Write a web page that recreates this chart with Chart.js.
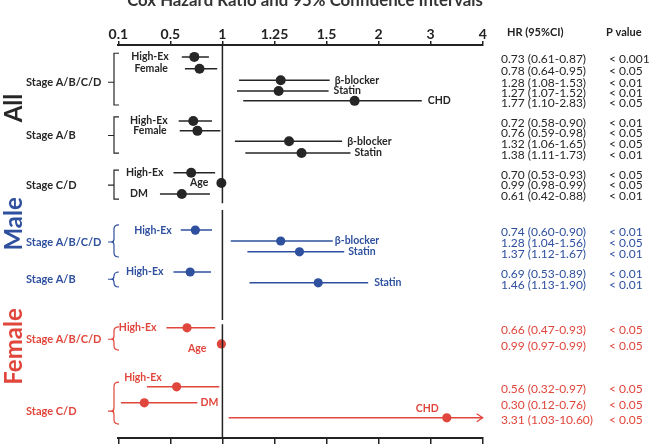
<!DOCTYPE html>
<html><head><meta charset="utf-8">
<script src="https://cdn.jsdelivr.net/npm/chart.js@4.4.0/dist/chart.umd.min.js"></script>
<style>html,body{margin:0;padding:0;background:#fff;} #wrap{position:relative;width:649px;height:444px;}</style>
</head><body><div id="wrap"><canvas id="c"></canvas></div>
<script>
// ---------- data ----------
const titleText = 'Cox Hazard Ratio and 95% Confidence Intervals';
const tickLabels = ['0.1','0.5','1','1.25','1.5','2','3','4'];
const tickValues = [0.1, 0.5, 1, 1.25, 1.5, 2, 3, 4];
const groupNames = ['All', 'Male', 'Female'];
const stageNames = ['Stage A/B/C/D','Stage A/B','Stage C/D','Stage A/B/C/D','Stage A/B','Stage A/B/C/D','Stage C/D'];
const stageGroup = [0, 0, 0, 1, 1, 2, 2];
const factors = ['High-Ex','Female','β-blocker','Statin','CHD',
                 'High-Ex','Female','β-blocker','Statin',
                 'High-Ex','Age','DM',
                 'High-Ex','β-blocker','Statin',
                 'High-Ex','Statin',
                 'High-Ex','Age',
                 'High-Ex','DM','CHD'];
const rowStage = [0,0,0,0,0, 1,1,1,1, 2,2,2, 3,3,3, 4,4, 5,5, 6,6,6];
const hr     = [0.73,0.78,1.28,1.27,1.77, 0.72,0.76,1.32,1.38, 0.70,0.99,0.61, 0.74,1.28,1.37, 0.69,1.46, 0.66,0.99, 0.56,0.30,3.31];
const ciLow  = [0.61,0.64,1.08,1.07,1.10, 0.58,0.59,1.06,1.11, 0.53,0.98,0.42, 0.60,1.04,1.12, 0.53,1.13, 0.47,0.97, 0.32,0.12,1.03];
const ciHigh = [0.87,0.95,1.53,1.52,2.83, 0.90,0.98,1.65,1.73, 0.93,0.99,0.88, 0.90,1.56,1.67, 0.89,1.90, 0.93,0.99, 0.97,0.76,10.60];
const pValues = ['< 0.001','< 0.05','< 0.01','< 0.01','< 0.05',
                 '< 0.01','< 0.05','< 0.05','< 0.01',
                 '< 0.05','< 0.05','< 0.01',
                 '< 0.01','< 0.05','< 0.01',
                 '< 0.01','< 0.01',
                 '< 0.05','< 0.05',
                 '< 0.05','< 0.05','< 0.05'];

// ---------- layout (row slots on the vertical row axis, label placement) ----------
const rowSlot = [2.3,4.6,6.8,8.9,10.8, 14.7,16.6,18.6,20.9, 24.7,26.7,28.8, 35.8,37.9,40.0, 43.9,46.0, 54.7,57.8, 66.1,69.2,72.1];
const stageSpan = [[1.6,11.6,7.2],[13.9,20.9,17.5],[24.2,29.8,27.1],[34.8,41.0,38.1],[43.9,46.8,45.3],[54.5,59.0,56.9],[65.2,73.3,70.8]];
const groupCenter = [12.2, 34.6, 58.3];
const labelSide = ['L','L','R','R','R', 'L','L','R','R', 'L','A','L', 'L','R','R', 'L','R', 'L','A2', 'T','R','TR'];
const labelGap = [13,17,5,5,6, 11,13,5,4, 10,13,12, 9,2,4, 10,6, 10,15, 4,3,8];
const refSegments = [[0,30.6],[31.9,53.2],[54.0,76]];
const colors = ['#262626', '#2e509e', '#e0463c'];
const slotMax = 76;

function toPos(v) {
  if (v <= tickValues[0]) return 0;
  for (let i = 0; i < tickValues.length - 1; i++) {
    if (v <= tickValues[i + 1]) return i + (v - tickValues[i]) / (tickValues[i + 1] - tickValues[i]);
  }
  return tickValues.length - 1;
}

const datasets = [];
refSegments.forEach(s => datasets.push({
  data: [{x: toPos(1), y: s[0]}, {x: toPos(1), y: s[1]}],
  showLine: true, borderColor: '#222', borderWidth: 1.5, pointRadius: 0
}));
hr.forEach((v, i) => {
  const g = stageGroup[rowStage[i]];
  datasets.push({
    data: [{x: toPos(ciLow[i]), y: rowSlot[i]}, {x: toPos(ciHigh[i]), y: rowSlot[i]}],
    showLine: true, borderColor: colors[g], borderWidth: 1.5, pointRadius: 0
  });
});
groupNames.forEach((name, g) => {
  const pts = [];
  hr.forEach((v, i) => { if (stageGroup[rowStage[i]] === g) pts.push({x: toPos(v), y: rowSlot[i]}); });
  datasets.push({ data: pts, pointRadius: g === 0 ? 5 : 4.6, pointBackgroundColor: colors[g], pointBorderColor: colors[g], pointBorderWidth: 0 });
});

const FONT = 'Lato, "Liberation Sans", sans-serif';

const decor = {
  id: 'decor',
  afterDatasetsDraw(chart) {
    const ctx = chart.ctx, xs = chart.scales.x, ys = chart.scales.y;
    ctx.save();
    // title
    ctx.fillStyle = '#333';
    ctx.font = 'bold 16.8px ' + FONT;
    ctx.textAlign = 'center'; ctx.textBaseline = 'alphabetic';
    ctx.fillText(titleText, 305, 5.5);
    // headers
    ctx.font = 'bold 11px ' + FONT;
    ctx.textAlign = 'left'; ctx.textBaseline = 'middle';
    ctx.fillStyle = '#222';
    ctx.fillText('HR (95%CI)', 507, 32);
    ctx.fillText('P value', 606, 32);
    // group labels
    groupNames.forEach((n, g) => {
      ctx.save();
      ctx.translate(14, ys.getPixelForValue(groupCenter[g]));
      ctx.rotate(-Math.PI / 2);
      ctx.fillStyle = colors[g];
      ctx.font = 'bold 24px ' + FONT;
      ctx.textAlign = 'center'; ctx.textBaseline = 'middle';
      ctx.fillText(n, 0, 0);
      ctx.restore();
    });
    // stages + brackets
    stageNames.forEach((n, s) => {
      const g = stageGroup[s];
      const [a, b, m] = stageSpan[s];
      const y0 = ys.getPixelForValue(a), y1 = ys.getPixelForValue(b), ym = ys.getPixelForValue(m);
      ctx.fillStyle = colors[g];
      ctx.font = 'bold 11px ' + FONT;
      ctx.textAlign = 'left'; ctx.textBaseline = 'middle';
      ctx.fillText(n, 26, ym);
      ctx.strokeStyle = colors[g];
      ctx.lineWidth = 1.2;
      const bx = 114;
      ctx.beginPath();
      if (g === 0) {
        ctx.moveTo(bx + 5, y0); ctx.lineTo(bx, y0); ctx.lineTo(bx, y1); ctx.lineTo(bx + 5, y1);
      } else {
        ctx.moveTo(bx + 5, y0); ctx.quadraticCurveTo(bx, y0, bx, y0 + 4);
        ctx.lineTo(bx, ym - 3); ctx.quadraticCurveTo(bx, ym, bx - 3, ym);
        ctx.quadraticCurveTo(bx, ym, bx, ym + 3);
        ctx.lineTo(bx, y1 - 4); ctx.quadraticCurveTo(bx, y1, bx + 5, y1);
      }
      ctx.moveTo(bx - 6, ym); ctx.lineTo(bx, ym);
      ctx.stroke();
    });
    // factor labels + table
    hr.forEach((v, i) => {
      const g = stageGroup[rowStage[i]];
      const py = ys.getPixelForValue(rowSlot[i]);
      const xl = xs.getPixelForValue(toPos(ciLow[i]));
      const xh = xs.getPixelForValue(toPos(ciHigh[i]));
      const xm = xs.getPixelForValue(toPos(v));
      const gap = labelGap[i];
      ctx.fillStyle = colors[g];
      ctx.font = 'bold 10.5px ' + FONT;
      ctx.textBaseline = 'middle';
      let tx, ty = py, al;
      switch (labelSide[i]) {
        case 'L': tx = xl - gap; al = 'right'; break;
        case 'R': tx = xh + gap; al = 'left'; break;
        case 'A': tx = xm - gap; al = 'right'; break;
        case 'A2': tx = xm - gap; al = 'right'; ty = py + 5; break;
        case 'T': tx = xl - gap; al = 'center'; ty = py - 9; break;
        case 'TR': tx = xm - gap; al = 'right'; ty = py - 9.5; break;
      }
      ctx.textAlign = al;
      ctx.fillText(factors[i], tx, ty);
      ctx.textAlign = 'left';
      ctx.font = '12px ' + FONT;
      ctx.fillText(v.toFixed(2) + ' (' + ciLow[i].toFixed(2) + '-' + ciHigh[i].toFixed(2) + ')', 501, py + 2.5);
      ctx.fillText(pValues[i], 609, py + 2.5);
      // arrow for truncated CI
      if (ciHigh[i] > tickValues[tickValues.length - 1]) {
        ctx.strokeStyle = colors[g]; ctx.lineWidth = 1.3;
        ctx.beginPath();
        ctx.moveTo(xh - 6, py - 4); ctx.lineTo(xh, py); ctx.lineTo(xh - 6, py + 4);
        ctx.stroke();
      }
    });
    ctx.restore();
  }
};

new Chart(document.getElementById('c'), {
  type: 'scatter',
  data: { datasets },
  options: {
    responsive: true, maintainAspectRatio: false, animation: false, events: [],
    layout: { padding: { left: 118.3, right: 166.3, top: 20, bottom: 0 } },
    plugins: { legend: { display: false }, tooltip: { enabled: false }, title: { display: false } },
    scales: {
      x: {
        type: 'linear', position: 'top', min: 0, max: tickLabels.length - 1,
        ticks: { stepSize: 1, autoSkip: false, maxRotation: 0, padding: -2,
          callback: v => tickLabels[v], color: '#222', font: { family: FONT, size: 14, weight: 'bold' } },
        grid: { drawOnChartArea: false, drawTicks: true, tickLength: 4, color: '#222', lineWidth: 1.5 },
        border: { display: true, color: '#222', width: 2 },
        afterFit: s => { s.height = 25; }
      },
      x2: {
        type: 'linear', position: 'bottom', min: 0, max: tickLabels.length - 1,
        ticks: { stepSize: 1, display: false },
        grid: { drawOnChartArea: false, drawTicks: true, tickLength: 6, color: '#222', lineWidth: 1.5 },
        border: { display: true, color: '#222', width: 2 },
        afterFit: s => { s.height = 6; }
      },
      y: { type: 'linear', reverse: true, min: 0, max: slotMax, display: false }
    }
  },
  plugins: [decor]
});
</script></body></html>
